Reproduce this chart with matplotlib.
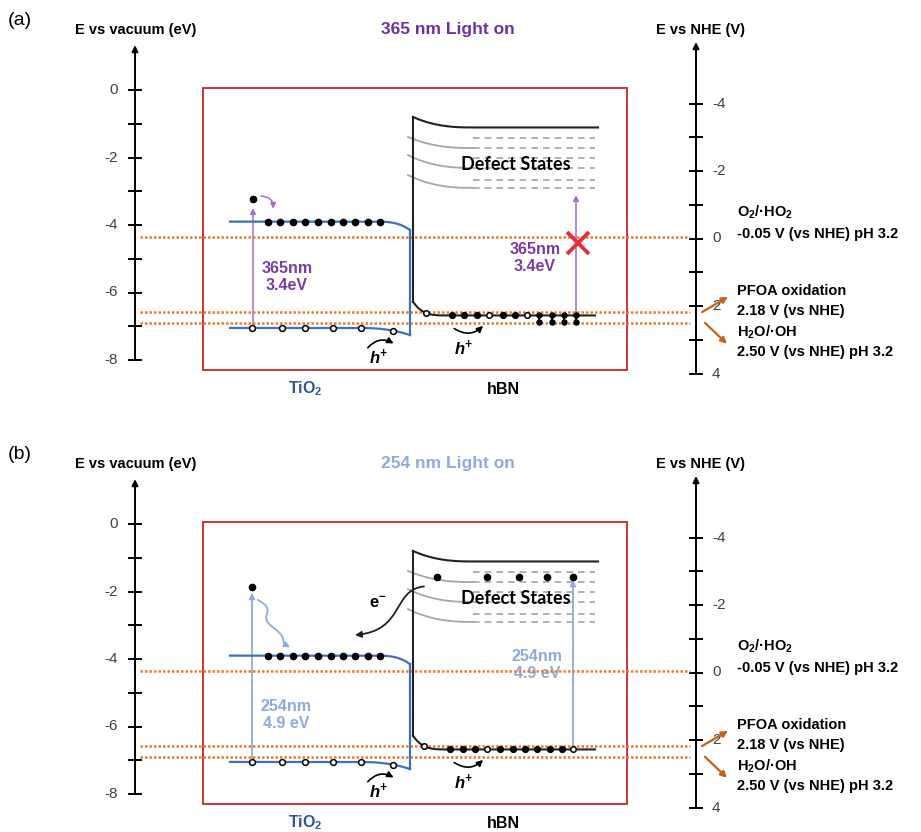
import numpy as np
import matplotlib.pyplot as plt
from matplotlib.patches import Rectangle, FancyArrowPatch
from matplotlib.path import Path

plt.rcParams['font.family'] = ['Liberation Sans', 'DejaVu Sans']
plt.rcParams['mathtext.default'] = 'regular'

# band edges, eV vs vacuum
tio2_cb = -3.90
tio2_vb = -7.05
tio2_cb_edge = -4.15
tio2_vb_edge = -7.26
hbn_cb = -1.11
hbn_cb_edge = -0.80
hbn_vb = -6.68
hbn_vb_edge = -6.27
defect_levels = [-1.42, -1.72, -2.01, -2.31, -2.67, -2.90]
defect_start = [-1.39, -1.93, -2.52]
defect_join = [-1.72, -2.31, -2.90]

# redox couples, V vs NHE
nhe_offset = -4.4
redox_values = [-0.05, 2.18, 2.50]
redox_names = ['O$_2$/·HO$_2$', 'PFOA oxidation', 'H$_2$O/·OH']
redox_notes = ['-0.05 V (vs NHE) pH 3.2', '2.18 V (vs NHE)', '2.50 V (vs NHE) pH 3.2']
name_y = [-3.61, -5.96, -7.17]
note_y = [-4.27, -6.55, -7.76]

vac_ticks = list(range(0, -9, -1))
vac_labels = [0, -2, -4, -6, -8]
nhe_ticks = list(range(-4, 5))
nhe_labels = [-4, -2, 0, 2, 4]

# carriers
tio2_e_x = [268, 280, 293, 305, 318, 331, 343, 355, 368, 380]
tio2_h_x = [252, 282, 305, 333, 361, 393]
hbn_open_a = [426, 489, 527]
hbn_full_a = [452, 464, 477, 503, 515]
hbn_pair_a = [539, 552, 564, 576]
hbn_open_b = [424, 487, 573]
hbn_full_b = [450, 463, 475, 500, 513, 525, 537, 550, 562]
defect_e_x = [437, 487, 519, 547, 573]

tio2_color = '#3F6FBF'
orange = '#EE7A2E'
purple = '#7A3BA6'
purple_line = '#A36CD0'
lightblue = '#8FAADC'


def band_bend(x, flat, edge, x0, x1, p):
    # flat level that bends towards the edge value between x0 and x1
    t = np.clip((x - x0) / (x1 - x0), 0, 1)
    return flat + (edge - flat) * t ** p


def tio2_vb_at(x):
    return band_bend(np.asarray(x, float), tio2_vb, tio2_vb_edge, 357, 410, 2.5)


def hbn_vb_at(x):
    return band_bend(np.asarray(x, float), hbn_vb, hbn_vb_edge, 450, 413, 4)


def draw_frame(ax, tag, title, title_color):
    ax.set_xlim(0, 921)
    ax.set_ylim(-(398 - 90) / 33.75, 90 / 33.75)
    ax.axis('off')

    ax.text(8, 2.07, tag, fontsize=14, ha='left', va='center')
    ax.text(136, 1.78, 'E vs vacuum (eV)', fontsize=10.5, weight='bold', ha='center', va='center')
    ax.text(448, 1.78, title, fontsize=12.5, weight='bold', color=title_color, ha='center', va='center')
    ax.text(700, 1.78, 'E vs NHE (V)', fontsize=10.5, weight='bold', ha='center', va='center')

    # vacuum scale
    ax.annotate('', xy=(135, 1.33), xytext=(135, -8),
                arrowprops=dict(arrowstyle='-|>', color='k', lw=1.4, mutation_scale=9,
                                shrinkA=0, shrinkB=0))
    for t in vac_ticks:
        ax.plot([129, 141], [t, t], color='k', lw=1.4)
    for t in vac_labels:
        ax.text(118, t, str(t), ha='right', va='center', fontsize=11, color='#404040')

    # NHE scale
    ax.annotate('', xy=(696, 1.42), xytext=(696, nhe_offset - 4),
                arrowprops=dict(arrowstyle='-|>', color='k', lw=1.4, mutation_scale=9,
                                shrinkA=0, shrinkB=0))
    for t in nhe_ticks:
        ax.plot([690, 702], [nhe_offset - t, nhe_offset - t], color='k', lw=1.4)
    for t in nhe_labels:
        ax.text(712, nhe_offset - t, str(t), ha='left', va='center', fontsize=11, color='#404040')

    ax.add_patch(Rectangle((203, -8.30), 424, 8.36, fill=False, ec='#CC3333', lw=1.4))

    # redox levels
    for v in redox_values:
        e = nhe_offset - v
        ax.plot([140, 690], [e, e], color=orange, lw=1.8, ls=(0, (1, 0.8)), zorder=4)
    for name, yy in zip(redox_names, name_y):
        ax.text(737, yy, name, fontsize=10.5, weight='bold', ha='left', va='center')
    for note, yy in zip(redox_notes, note_y):
        ax.text(737, yy, note, fontsize=10.5, weight='bold', ha='left', va='center')
    ax.annotate('', xy=(728, -6.13), xytext=(702, -6.58),
                arrowprops=dict(arrowstyle='-|>', color='#C8601A', lw=1.6, mutation_scale=9,
                                shrinkA=0, shrinkB=0))
    ax.annotate('', xy=(727, -7.52), xytext=(705, -6.90),
                arrowprops=dict(arrowstyle='-|>', color='#C8601A', lw=1.6, mutation_scale=9,
                                shrinkA=0, shrinkB=0))

    # TiO2 bands
    x = np.linspace(230, 410, 200)
    ax.plot(x, band_bend(x, tio2_cb, tio2_cb_edge, 375, 410, 3), color=tio2_color, lw=1.6, zorder=5)
    ax.plot(x, tio2_vb_at(x), color=tio2_color, lw=1.6, zorder=5)
    ax.plot([410, 410], [tio2_cb_edge, tio2_vb_edge], color=tio2_color, lw=1.6, zorder=5)

    # hBN bands and defect states
    x = np.linspace(413, 598, 200)
    ax.plot(x, band_bend(x, hbn_cb, hbn_cb_edge, 472, 413, 2.5), color='#222222', lw=1.5, zorder=5)
    x = np.linspace(413, 595, 200)
    ax.plot(x, hbn_vb_at(x), color='#222222', lw=1.5, zorder=5)
    ax.plot([413, 413], [hbn_cb_edge, hbn_vb_edge], color='#222222', lw=1.5, zorder=5)
    x = np.linspace(408, 473, 100)
    for s, j in zip(defect_start, defect_join):
        ax.plot(x, band_bend(x, j, s, 473, 408, 2.5), color='#A6A6A6', lw=1.3, zorder=3)
    for lv in defect_levels:
        ax.plot([473, 595], [lv, lv], color='#A6A6A6', lw=1.2, ls=(0, (4, 3)), zorder=3)
    ax.text(516, -2.22, 'Defect States', fontsize=13, weight='bold', family='Lato',
            ha='center', va='center', zorder=6)

    # electrons in the TiO2 conduction band, holes in the valence band
    ax.plot(tio2_e_x, [tio2_cb] * len(tio2_e_x), 'o', color='k', ms=4.5, zorder=6)
    ax.plot(tio2_h_x, tio2_vb_at(tio2_h_x), 'o', mfc='white', mec='k', mew=1.1, ms=4.2, zorder=6)

    # hole transfer arrows
    ax.add_patch(FancyArrowPatch((366, -7.70), (396, -7.55), connectionstyle='arc3,rad=-0.45',
                                 arrowstyle='-|>', mutation_scale=9, color='k', lw=1.2, zorder=6))
    ax.text(378, -7.93, '$h^{+}$', fontsize=12, weight='bold', style='italic',
            ha='center', va='center')
    ax.add_patch(FancyArrowPatch((452, -7.02), (485, -6.93), connectionstyle='arc3,rad=0.45',
                                 arrowstyle='-|>', mutation_scale=9, color='k', lw=1.2, zorder=6))
    ax.text(463, -7.65, '$h^{+}$', fontsize=12, weight='bold', style='italic',
            ha='center', va='center')

    ax.text(305, -8.86, 'TiO$_2$', fontsize=11.5, weight='bold', color='#2F5597',
            ha='center', va='center')
    ax.text(503, -8.86, 'hBN', fontsize=11.5, weight='bold', ha='center', va='center')


fig = plt.figure(figsize=(9.21, 8.32), dpi=100)
ax_a = fig.add_axes([0, 434 / 832, 1, 398 / 832])
ax_b = fig.add_axes([0, 0, 1, 398 / 832])

# (a) 365 nm illumination
draw_frame(ax_a, '(a)', '365 nm Light on', '#7030A0')
ax_a.plot([253], [-3.23], 'o', color='k', ms=4.5, zorder=6)
ax_a.annotate('', xy=(253, -3.50), xytext=(253, tio2_vb),
              arrowprops=dict(arrowstyle='-|>', color=purple_line, lw=1.1, mutation_scale=8,
                              shrinkA=0, shrinkB=0))
ax_a.add_patch(FancyArrowPatch((258, -3.15), (273, -3.60), connectionstyle='arc3,rad=-0.6',
                               arrowstyle='-|>', mutation_scale=8, color=purple_line, lw=1.1))
ax_a.text(287, -5.54, '365nm\n3.4eV', fontsize=11.5, weight='bold', color=purple,
          ha='center', va='center', linespacing=1.15)
ax_a.plot(hbn_open_a, hbn_vb_at(hbn_open_a), 'o', mfc='white', mec='k', mew=1.1, ms=4, zorder=6)
ax_a.plot(hbn_full_a, hbn_vb_at(hbn_full_a), 'o', color='k', ms=4.2, zorder=6)
for xp in hbn_pair_a:
    ax_a.plot([xp, xp], [hbn_vb, hbn_vb - 0.18], color='k', lw=1.4, zorder=6)
    ax_a.plot([xp, xp], [hbn_vb, hbn_vb - 0.18], 'o', color='k', ms=3.6, zorder=6)
ax_a.annotate('', xy=(576, -3.12), xytext=(576, hbn_vb),
              arrowprops=dict(arrowstyle='-|>', color=purple_line, lw=1.1, mutation_scale=8,
                              shrinkA=0, shrinkB=0))
ax_a.text(535, -4.98, '365nm\n3.4eV', fontsize=11.5, weight='bold', color=purple,
          ha='center', va='center', linespacing=1.15)
ax_a.plot([578], [-4.53], 'x', color='#E8303C', ms=16, mew=2.8, zorder=7)

# (b) 254 nm illumination
draw_frame(ax_b, '(b)', '254 nm Light on', lightblue)
ax_b.plot([252], [-1.87], 'o', color='k', ms=4.5, zorder=6)
ax_b.annotate('', xy=(252, -2.04), xytext=(252, tio2_vb),
              arrowprops=dict(arrowstyle='-|>', color=lightblue, lw=1.3, mutation_scale=8,
                              shrinkA=0, shrinkB=0))
# relaxation of the hot electron
t = np.linspace(0, 1, 80)
x0, y0, x1, y1 = 258, -2.25, 284, -3.55
wig = 0.2 * np.sin(2 * np.pi * 1.5 * t) * (1 - 0.6 * t)
ax_b.plot(x0 + (x1 - x0) * t + wig * 25, y0 + (y1 - y0) * t, color=lightblue, lw=1.3, zorder=6)
ax_b.annotate('', xy=(290, -3.66), xytext=(284, -3.55),
              arrowprops=dict(arrowstyle='-|>', color=lightblue, lw=1.3, mutation_scale=8,
                              shrinkA=0, shrinkB=0))
ax_b.text(286, -5.66, '254nm\n4.9 eV', fontsize=11.5, weight='bold', color=lightblue,
          ha='center', va='center', linespacing=1.15)
ax_b.plot(hbn_open_b, hbn_vb_at(hbn_open_b), 'o', mfc='white', mec='k', mew=1.1, ms=4, zorder=6)
ax_b.plot(hbn_full_b, hbn_vb_at(hbn_full_b), 'o', color='k', ms=4.2, zorder=6)
ax_b.plot(defect_e_x, [np.mean(defect_levels[:2])] * len(defect_e_x), 'o', color='k', ms=4.5, zorder=6)
ax_b.annotate('', xy=(573, -1.66), xytext=(573, hbn_vb),
              arrowprops=dict(arrowstyle='-|>', color=lightblue, lw=1.3, mutation_scale=8,
                              shrinkA=0, shrinkB=0))
ax_b.text(537, -4.18, '254nm\n4.9 eV', fontsize=11.5, weight='bold', color=lightblue,
          ha='center', va='center', linespacing=1.15)
# electron back-transfer from hBN defects to TiO2
verts = [(424, -1.85), (392, -1.95), (405, -3.15), (355, -3.29)]
ax_b.add_patch(FancyArrowPatch(path=Path(verts, [Path.MOVETO, Path.CURVE4, Path.CURVE4, Path.CURVE4]),
                               arrowstyle='-|>', mutation_scale=9, color='#222222', lw=1.3, zorder=6))
ax_b.text(378, -2.35, '$e^{-}$', fontsize=12, weight='bold', ha='center', va='center')

fig.savefig('out.png', dpi=100)
